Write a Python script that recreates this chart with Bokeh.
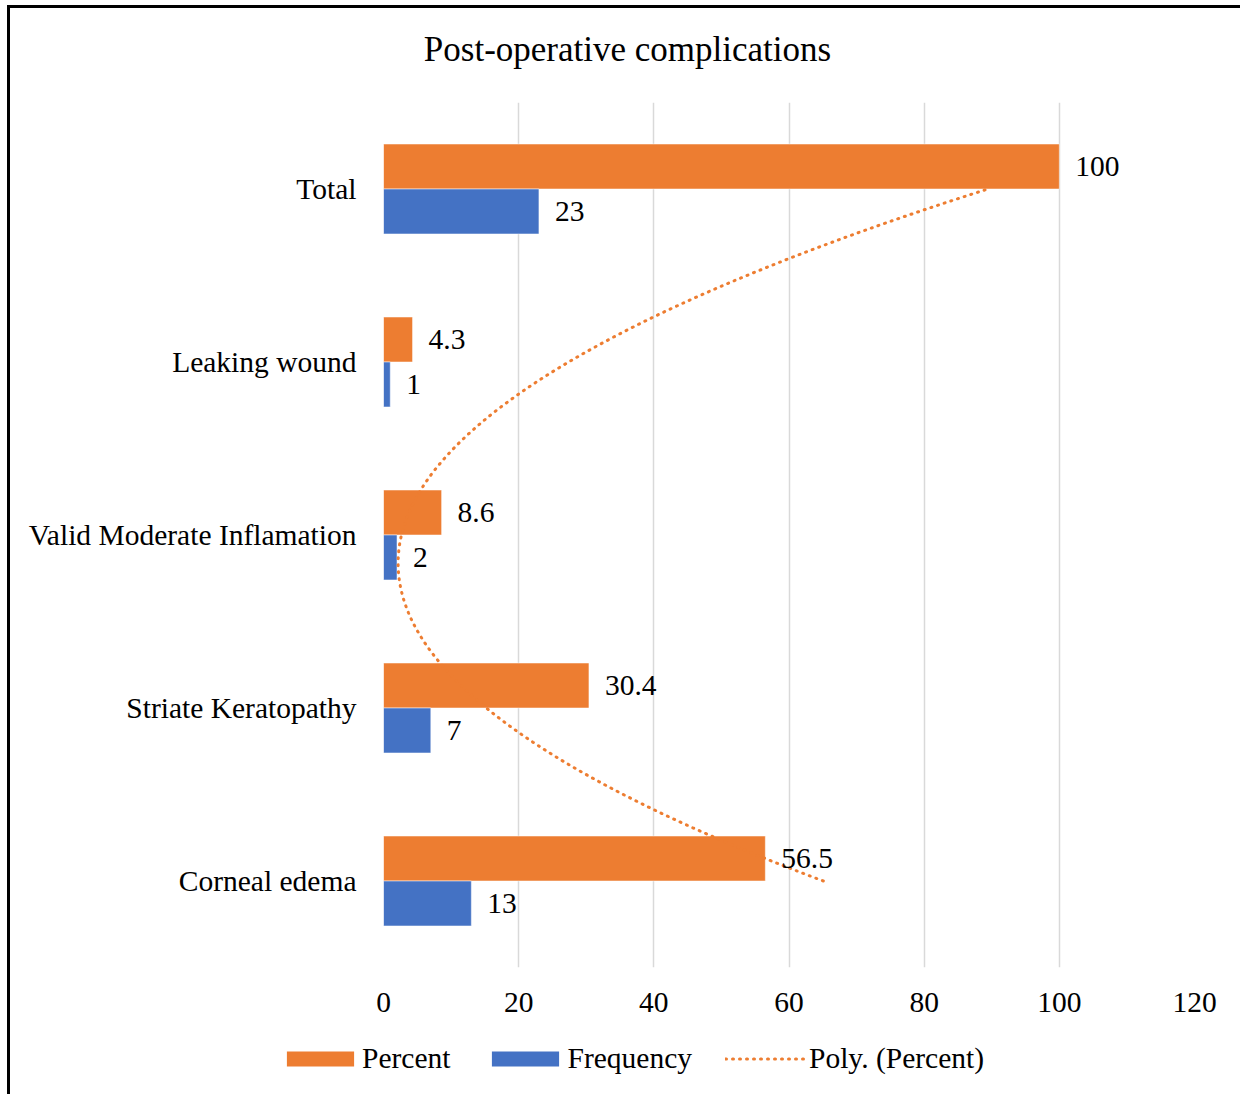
import numpy as np
from bokeh.plotting import figure
from bokeh.layouts import column
from bokeh.models import ColumnDataSource, Range1d, FixedTicker, Legend, LegendItem, Label
from bokeh.core.properties import value
from bokeh.embed import file_html
from bokeh.resources import INLINE

# ---- data (bottom to top, as drawn) ----
categories = ["Corneal edema", "Striate Keratopathy", "Valid Moderate Inflamation",
              "Leaking wound", "Total"]
percent = [56.5, 30.4, 8.6, 4.3, 100]
frequency = [13, 7, 2, 1, 23]
x_ticks = [0, 20, 40, 60, 80, 100, 120]
series_names = ["Percent", "Frequency", "Poly. (Percent)"]
title_text = "Post-operative complications"

ORANGE = "#ED7D31"
BLUE = "#4472C4"
FONT = "Liberation Serif"
FS = "29.5px"

pos = np.arange(1, len(categories) + 1)

CW = 1230            # canvas width
TH = 94              # title strip height
PH = 926             # chart height
LH = 66              # legend strip height
FL, FR, FB = 373, 1184, 865  # chart frame edges (canvas px)

# ---------------- title strip ----------------
tf = figure(width=CW, height=TH, output_backend="svg", toolbar_location=None,
            x_range=Range1d(0, CW), y_range=Range1d(0, TH), min_border=0,
            x_axis_type=None, y_axis_type=None)
tf.frame_align = False
tf.outline_line_color = None
tf.add_layout(Label(x=617, y=53, text=title_text, text_align="center",
                    text_baseline="alphabetic", text_font=FONT,
                    text_font_size="35px", text_color="black"))

# ---------------- chart ----------------
p = figure(width=CW, height=PH, output_backend="svg", toolbar_location=None,
           x_range=Range1d(0, 120), y_range=Range1d(0.5, len(categories) + 0.5),
           min_border_left=FL, min_border_right=CW - FR,
           min_border_top=0, min_border_bottom=PH - FB)
p.frame_align = False

src = ColumnDataSource(dict(
    pct_y=pos + 0.13, frq_y=pos - 0.13,
    percent=percent, frequency=frequency,
    pct_lbl=[f"{v:g}" for v in percent],
    frq_lbl=[f"{v:g}" for v in frequency],
))

p.hbar(y="pct_y", left=0, right="percent", height=0.26, source=src,
       fill_color=ORANGE, line_color="white", line_alpha=0.5, line_width=1)
p.hbar(y="frq_y", left=0, right="frequency", height=0.26, source=src,
       fill_color=BLUE, line_color="white", line_alpha=0.5, line_width=1)

# Excel-style 2nd order polynomial trendline of Percent over category index
coef = np.polyfit(pos, percent, 2)
ty = np.linspace(pos[0], pos[-1], 300)
tx = np.polyval(coef, ty)
p.line(tx, ty, line_color=ORANGE, line_width=3, line_dash="1 6", line_cap="round")

p.text(x="percent", y="pct_y", text="pct_lbl", source=src, x_offset=16,
       text_align="left", text_baseline="middle", text_font=value(FONT),
       text_font_size=FS, text_color="black")
p.text(x="frequency", y="frq_y", text="frq_lbl", source=src, x_offset=16,
       text_align="left", text_baseline="middle", text_font=value(FONT),
       text_font_size=FS, text_color="black")

p.xaxis.ticker = FixedTicker(ticks=x_ticks)
p.yaxis.ticker = FixedTicker(ticks=[int(v) for v in pos])
p.yaxis.major_label_overrides = {int(v): c for v, c in zip(pos, categories)}
for ax in (p.xaxis, p.yaxis):
    ax.axis_line_color = None
    ax.major_tick_line_color = None
    ax.minor_tick_line_color = None
    ax.major_label_text_font = FONT
    ax.major_label_text_font_size = FS
    ax.major_label_text_color = "black"
p.xaxis.major_label_standoff = 19
p.yaxis.major_label_standoff = 21

p.xgrid.grid_line_color = "#D9D9D9"
p.xgrid.grid_line_width = 1.5
p.ygrid.grid_line_color = None
p.outline_line_color = None

# ---------------- legend strip ----------------
lf = figure(width=CW, height=LH, output_backend="svg", toolbar_location=None,
            x_range=Range1d(0, CW), y_range=Range1d(0, LH), min_border=0,
            x_axis_type=None, y_axis_type=None)
lf.frame_align = False
lf.outline_line_color = None
g_pct = lf.hbar(y=[-100], left=[0], right=[1], height=1, fill_color=ORANGE,
                line_color=None)
g_frq = lf.hbar(y=[-100], left=[0], right=[1], height=1, fill_color=BLUE,
                line_color=None)
g_poly = lf.line([0, 1], [-100, -100], line_color=ORANGE, line_width=3,
                 line_dash="1 6", line_cap="round")
legend = Legend(items=[LegendItem(label=series_names[0], renderers=[g_pct]),
                       LegendItem(label=series_names[1], renderers=[g_frq]),
                       LegendItem(label=series_names[2], renderers=[g_poly])],
                orientation="horizontal", location=(268, 19),
                glyph_width=84, glyph_height=19, label_standoff=0, spacing=33,
                padding=0, margin=0, border_line_color=None,
                background_fill_alpha=0, label_text_font=FONT,
                label_text_font_size=FS, label_text_color="black")
lf.add_layout(legend, "center")

col = column(tf, p, lf, spacing=0)
col.styles = {"border-top": "3px solid black", "border-left": "3px solid black",
              "margin-top": "5px", "margin-left": "7px"}

open("out.html", "w").write(file_html(col, INLINE))
